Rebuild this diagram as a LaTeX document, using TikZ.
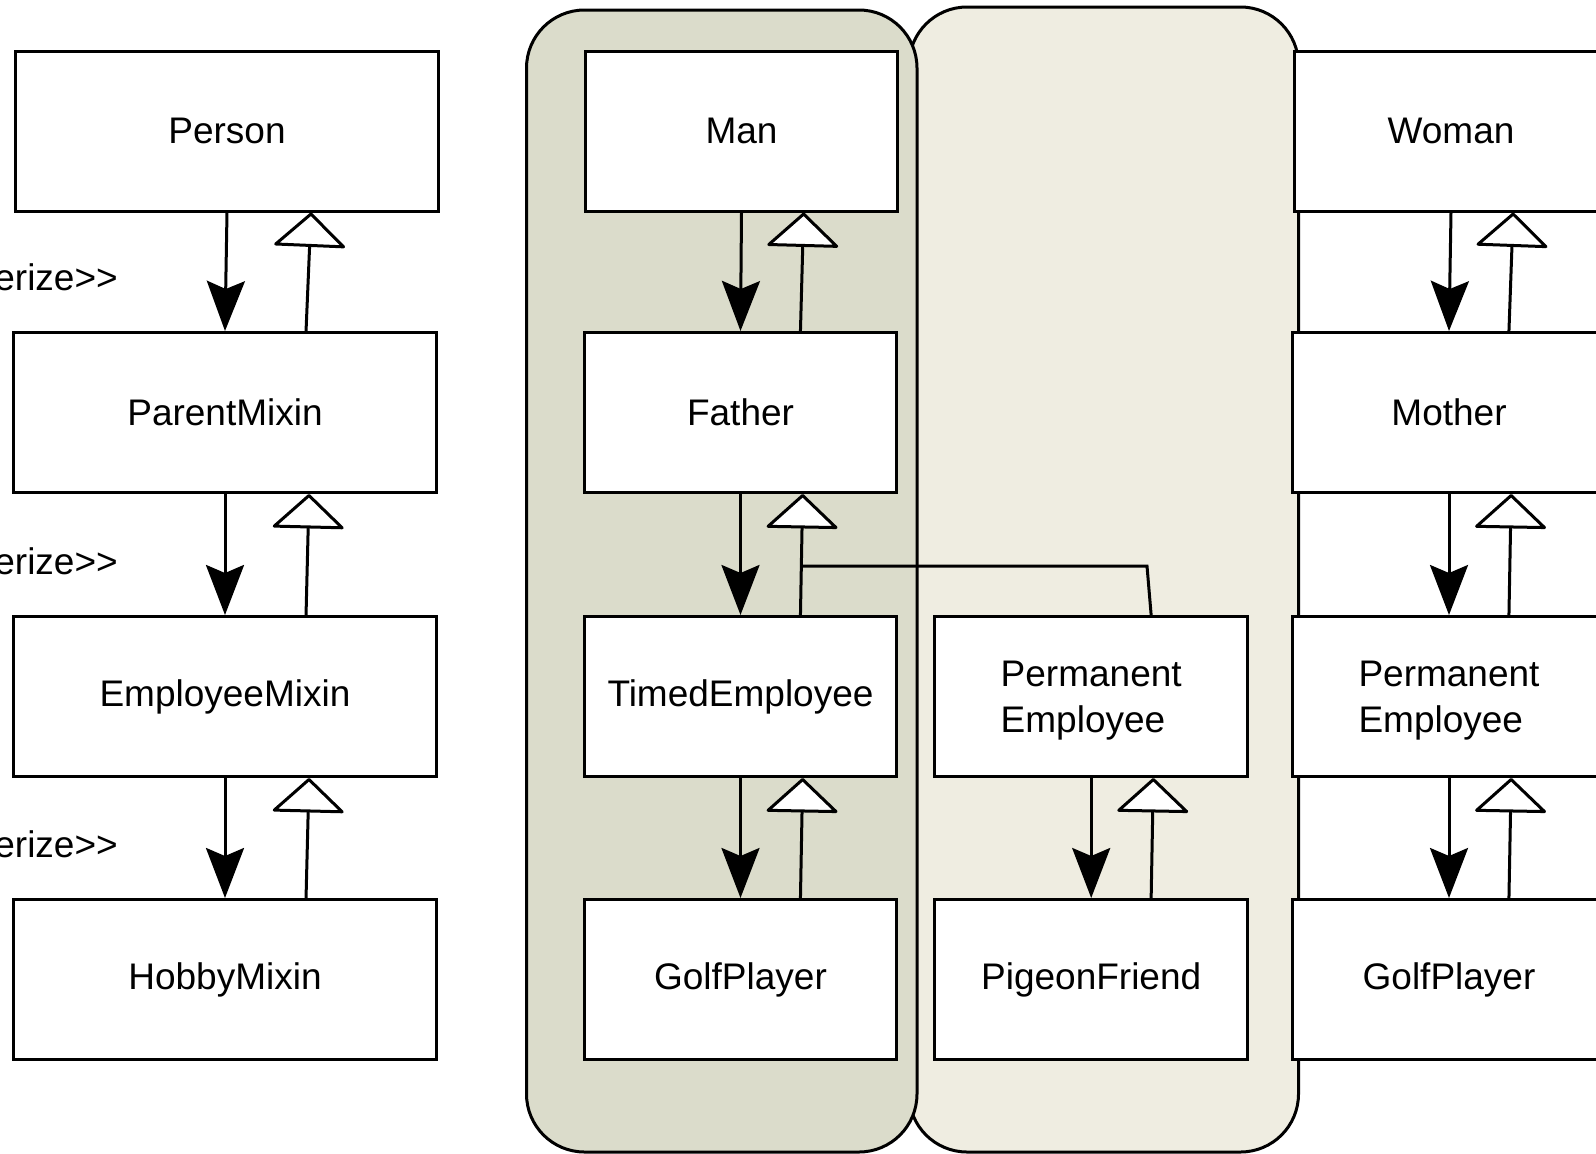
\documentclass[tikz,border=0pt]{standalone}
\usepackage{fontspec}
\setmainfont{Liberation Sans}
\usetikzlibrary{arrows.meta,calc}
\definecolor{darkgrp}{RGB}{219,220,203}
\definecolor{lightgrp}{RGB}{239,237,225}
\newcommand\linkpair[2]{%
  \draw[dep] ($(#1.south west)!0.5!(#1.south east)$) -- ($(#2.north west)!0.5!(#2.north east)$);
  \draw[gen] ($(#2.north west)!0.69!(#2.north east)$) -- ($(#1.south west)!0.697!(#1.south east)$);
}
\newcommand\twolines[2]{\raisebox{0pt}[\dimexpr\height+8pt\relax][\depth]{\begin{tabular}{@{}l@{}}#1\\#2\end{tabular}}}
\begin{document}
\begin{tikzpicture}[x=1pt,y=-1pt,
  box/.style={draw=black, line width=3pt, fill=white, minimum height=160pt, inner sep=0pt, font=\fontsize{37}{45.8}\selectfont, align=center},
  wide/.style={box, minimum width=423.5pt},
  narrow/.style={box, minimum width=312.5pt},
  grp/.style={draw=black, line width=3pt, rounded corners=58pt},
  dep/.style={line width=3pt, -{Stealth[length=50pt,width=38pt,inset=8pt]}},
  gen/.style={line width=3pt, -{Triangle[length=35pt,width=75pt,fill=white,line join=round]}},
  lbl/.style={font=\fontsize{37}{45.8}\selectfont, anchor=east, inner sep=0pt}
]
\useasboundingbox (0,0) rectangle (1596,1154);
\clip (0,0) rectangle (1596,1154);

\draw[grp, fill=lightgrp] (909,7) rectangle (1298.5,1152);
\draw[grp, fill=darkgrp] (526.5,10) rectangle (917,1152);

\node[wide] (person) at (227,131) {Person};
\node[wide] (parent) at (225,412.5) {ParentMixin};
\node[wide] (employee) at (225,696.5) {EmployeeMixin};
\node[wide] (hobby) at (225,979.5) {HobbyMixin};

\node[narrow] (man) at (741.5,131) {Man};
\node[narrow] (father) at (740.5,412.5) {Father};
\node[narrow] (timed) at (740.5,696.5) {TimedEmployee};
\node[narrow] (golf1) at (740.5,979.5) {GolfPlayer};
\node[narrow] (perm1) at (1091.2,696.5) {\twolines{Permanent}{Employee}};
\node[narrow] (pigeon) at (1091.2,979.5) {PigeonFriend};
\node[narrow] (woman) at (1451,131) {Woman};
\node[narrow] (mother) at (1449,412.5) {Mother};
\node[narrow] (perm2) at (1449,696.5) {\twolines{Permanent}{Employee}};
\node[narrow] (golf2) at (1449,979.5) {GolfPlayer};

\node[lbl] (l1) at (118,277) {erize>{}>};
\node[lbl] (l2) at (118,561) {erize>{}>};
\node[lbl] (l3) at (118,844) {erize>{}>};

\linkpair{person}{parent}
\linkpair{parent}{employee}
\linkpair{employee}{hobby}
\linkpair{man}{father}
\linkpair{father}{timed}
\linkpair{timed}{golf1}
\linkpair{perm1}{pigeon}
\linkpair{woman}{mother}
\linkpair{mother}{perm2}
\linkpair{perm2}{golf2}

\coordinate (teTop) at ($(timed.north west)!0.69!(timed.north east)$);
\coordinate (faBot) at ($(father.south west)!0.697!(father.south east)$);
\coordinate (j) at ($(teTop)!0.4!(faBot)$);
\coordinate (bend) at (1147,566);
\draw[line width=3pt] ($(perm1.north west)!0.69!(perm1.north east)$) -- (bend) -- (bend -| j);
\end{tikzpicture}
\end{document}
